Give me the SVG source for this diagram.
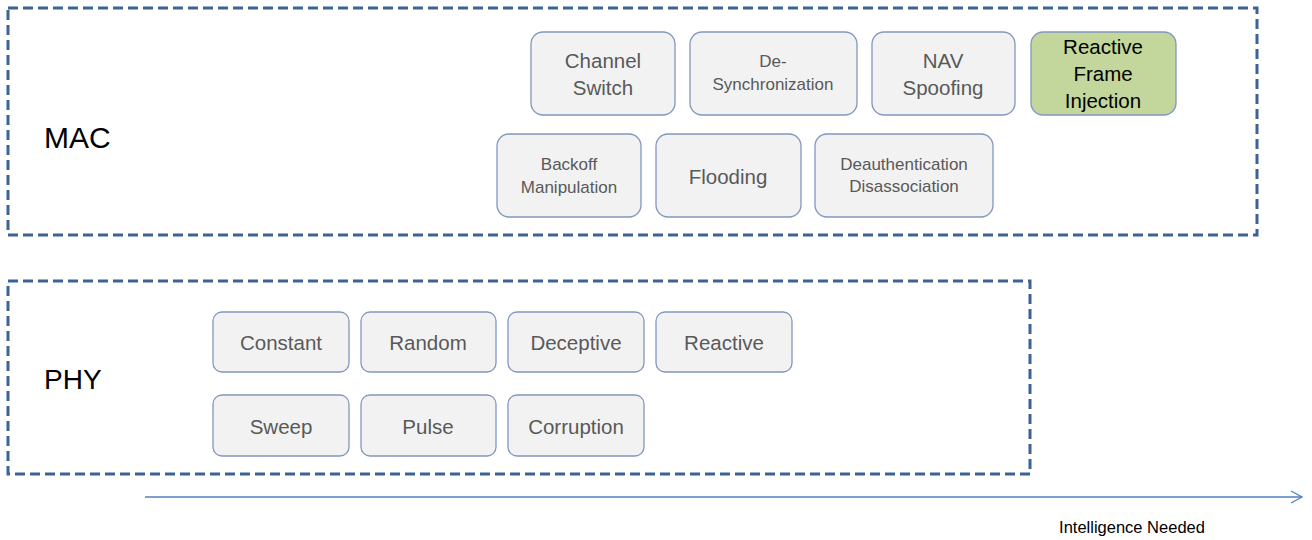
<svg xmlns="http://www.w3.org/2000/svg" width="1312" height="540" viewBox="0 0 1312 540">
<defs>
<style>
.layer{fill:none;stroke:#3D6394;stroke-width:3;stroke-dasharray:10 5}
.node rect{fill:#F2F2F2;stroke:#8198BE;stroke-width:1.3}
.node text{font-family:"Liberation Sans",Arial,sans-serif;fill:#595959;text-anchor:middle;dominant-baseline:central}
.big{font-size:20.5px}
.sm{font-size:17px}
.lbl{font-family:"Liberation Sans",Arial,sans-serif;fill:#000}
</style>
<marker id="arr" markerWidth="14" markerHeight="14" refX="12" refY="7" orient="auto" markerUnits="userSpaceOnUse">
<path d="M1,1 L12,7 L1,13" fill="none" stroke="#4F81BD" stroke-width="1.3"/>
</marker>
</defs>
<rect width="1312" height="540" fill="#fff"/>
<g id="layer-mac">
<rect class="layer" x="8" y="8" width="1249" height="227"/>
<text class="lbl" x="44" y="148" font-size="30">MAC</text>
</g>
<g id="layer-phy">
<rect class="layer" x="8" y="281" width="1022" height="193"/>
<text class="lbl" x="44" y="389" font-size="28">PHY</text>
</g>
<g id="n-channel" class="node"><rect x="531" y="32" width="144" height="83" rx="12"/><text class="big" x="603" y="60">Channel</text><text class="big" x="603" y="87">Switch</text></g>
<g id="n-desync" class="node"><rect x="690" y="32" width="167" height="83" rx="12"/><text class="sm" x="773" y="61">De-</text><text class="sm" x="773" y="84">Synchronization</text></g>
<g id="n-nav" class="node"><rect x="872" y="32" width="143" height="83" rx="12"/><text class="big" x="943" y="60">NAV</text><text class="big" x="943" y="87">Spoofing</text></g>
<g id="n-rfi" class="node"><rect x="1031" y="32" width="145" height="83" rx="12" style="fill:#C3D69B"/><text class="big" x="1103" y="46" style="fill:#000">Reactive</text><text class="big" x="1103" y="73" style="fill:#000">Frame</text><text class="big" x="1103" y="100" style="fill:#000">Injection</text></g>
<g id="n-backoff" class="node"><rect x="497" y="134" width="144" height="83" rx="12"/><text class="sm" x="569" y="164">Backoff</text><text class="sm" x="569" y="187">Manipulation</text></g>
<g id="n-flooding" class="node"><rect x="656" y="134" width="145" height="83" rx="12"/><text class="big" x="728" y="176">Flooding</text></g>
<g id="n-deauth" class="node"><rect x="815" y="134" width="178" height="83" rx="12"/><text class="sm" x="904" y="164">Deauthentication</text><text class="sm" x="904" y="186">Disassociation</text></g>
<g id="n-constant" class="node"><rect x="213" y="312" width="136" height="60" rx="9"/><text class="big" x="281" y="342">Constant</text></g>
<g id="n-random" class="node"><rect x="361" y="312" width="135" height="60" rx="9"/><text class="big" x="428" y="342">Random</text></g>
<g id="n-deceptive" class="node"><rect x="508" y="312" width="136" height="60" rx="9"/><text class="big" x="576" y="342">Deceptive</text></g>
<g id="n-reactive" class="node"><rect x="656" y="312" width="136" height="60" rx="9"/><text class="big" x="724" y="342">Reactive</text></g>
<g id="n-sweep" class="node"><rect x="213" y="395" width="136" height="61" rx="9"/><text class="big" x="281" y="426">Sweep</text></g>
<g id="n-pulse" class="node"><rect x="361" y="395" width="135" height="61" rx="9"/><text class="big" x="428" y="426">Pulse</text></g>
<g id="n-corruption" class="node"><rect x="508" y="395" width="136" height="61" rx="9"/><text class="big" x="576" y="426">Corruption</text></g>
<g id="connectors">
<line x1="145" y1="497" x2="1302" y2="497" stroke="#4F81BD" stroke-width="1.3" marker-end="url(#arr)"/>
</g>
<text class="lbl" x="1132" y="533" font-size="16.5" text-anchor="middle">Intelligence Needed</text>
</svg>
